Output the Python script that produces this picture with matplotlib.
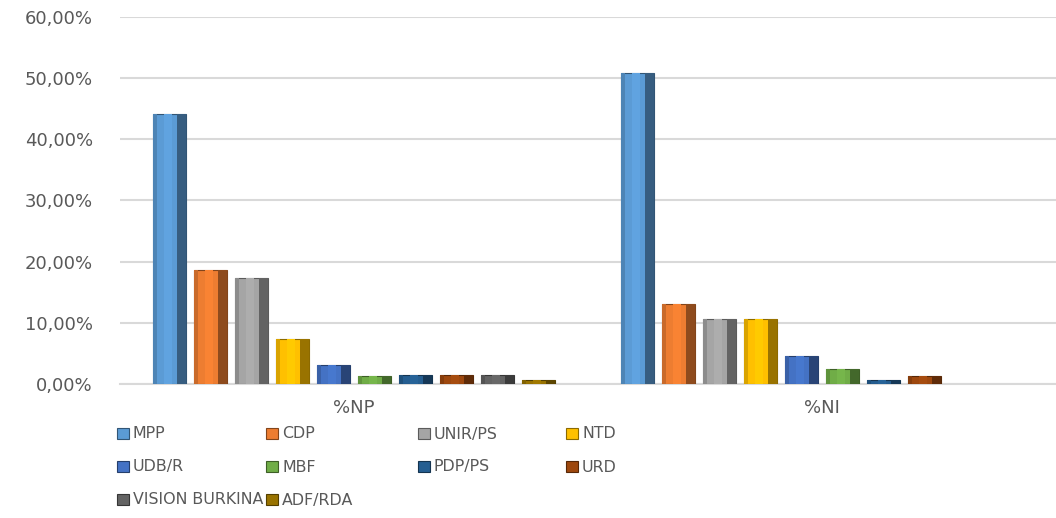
import numpy as np
import matplotlib
matplotlib.use('Agg')
import matplotlib.pyplot as plt
import matplotlib.colors as mcolors
from matplotlib.patches import Rectangle
from matplotlib.ticker import FuncFormatter

## data (percent)
groups = ['%NP', '%NI']
parties = ['MPP', 'CDP', 'UNIR/PS', 'NTD', 'UDB/R', 'MBF', 'PDP/PS', 'URD',
           'VISION BURKINA', 'ADF/RDA']
np_vals = [44.1, 18.7, 17.4, 7.3, 3.1, 1.3, 1.4, 1.4, 1.4, 0.6]
ni_vals = [50.8, 13.1, 10.6, 10.7, 4.5, 2.5, 0.6, 1.3, 0.0, 0.0]
colors = ['#5B9BD5', '#ED7D31', '#A5A5A5', '#FFC000', '#4472C4', '#70AD47',
          '#255E91', '#9E480E', '#636363', '#997300']
yticks = [0, 10, 20, 30, 40, 50, 60]

def shade(c, f):
  r, g, b = mcolors.to_rgb(c)
  return (min(r*f, 1), min(g*f, 1), min(b*f, 1))

fig = plt.figure(figsize=(10.56, 5.18), dpi=100)
ax = fig.add_axes([0.1136, 0.2587, 0.8864, 0.7085])

x = np.arange(len(groups))
pitch = 0.0876
w = 0.0705
vals = np.array([np_vals, ni_vals])  # groups x parties
for j, p in enumerate(parties):
  xs = x + (j - 4.5) * pitch
  h = vals[:, j]
  lw = [0.8 if v > 0 else 0 for v in h]
  # body
  ax.bar(xs, h, width=w, color=colors[j], edgecolor=shade(colors[j], 0.55),
         linewidth=lw, zorder=3)
  # bevel: light centre, dark right side, slightly dark left edge
  ax.bar(xs - w*0.05, h, width=w*0.25, color=shade(colors[j], 1.05), linewidth=0, zorder=4)
  ax.bar(xs + w*0.36, h, width=w*0.28, color=shade(colors[j], 0.6), linewidth=0, zorder=4)
  ax.bar(xs - w*0.44, h, width=w*0.12, color=shade(colors[j], 0.85), linewidth=0, zorder=4)

ax.set_xlim(-0.5, 1.5)
ax.set_ylim(0, 60)
ax.set_yticks(yticks)
ax.yaxis.set_major_formatter(FuncFormatter(lambda v, pos: ('%.2f%%' % v).replace('.', ',')))
ax.set_xticks(x)
ax.set_xticklabels(groups)
ax.tick_params(axis='both', length=0, labelsize=13, colors='#595959')
ax.tick_params(axis='y', pad=19.5)
ax.tick_params(axis='x', pad=11)
ax.grid(axis='y', color='#D9D9D9', linewidth=1.5, zorder=0)
for s in ['top', 'right', 'left']:
  ax.spines[s].set_visible(False)
ax.spines['bottom'].set_color('#D9D9D9')
ax.spines['bottom'].set_linewidth(1.5)

## legend, 4 equal columns like Excel
col_x = [117, 266, 418, 566]
row_y = [434, 467, 500]
for j, p in enumerate(parties):
  cx = col_x[j % 4] / 1056.
  cy = 1 - row_y[j // 4] / 518.
  fig.patches.append(Rectangle((cx, cy - 5/518.), 12/1056., 11/518.,
                               transform=fig.transFigure, facecolor=colors[j],
                               edgecolor=shade(colors[j], 0.55), linewidth=0.8))
  fig.text(cx + 16/1056., cy, p, fontsize=11.4, color='#595959', va='center', ha='left')

fig.savefig('out.png', dpi=100)
